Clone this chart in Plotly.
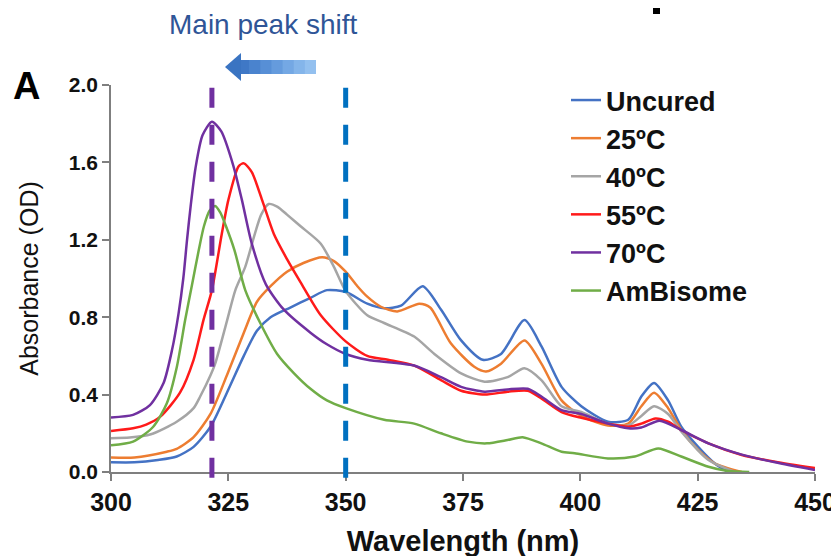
import plotly.graph_objects as go

# ---------------- data ----------------
series_names = ["Uncured", "25ºC", "40ºC", "55ºC", "70ºC", "AmBisome"]
series_colors = ["#4472C4", "#ED7D31", "#A5A5A5", "#FF1A1A", "#7030A0", "#70AD47"]

uncured_x = [300, 305, 310, 314, 317.6, 321.2, 324.7, 328.3, 331.1, 334, 338.2, 342.5, 346, 350,
             354.6, 358.2, 361.8, 366.4, 370.3, 374.6, 379.2, 383.1, 388.1, 391.7, 396, 400.2,
             405.9, 410.2, 413, 415.7, 418.7, 421.5, 425.1, 428.6, 431.5]
uncured_y = [0.05, 0.05, 0.062, 0.08, 0.13, 0.234, 0.41, 0.60, 0.73, 0.80, 0.85, 0.90, 0.94, 0.93,
             0.87, 0.846, 0.86, 0.96, 0.84, 0.68, 0.58, 0.61, 0.785, 0.65, 0.44, 0.34,
             0.26, 0.27, 0.39, 0.46, 0.37, 0.234, 0.13, 0.045, 0.0]

c25_x = [300, 305, 311.9, 314, 317.6, 321.2, 324.7, 328.3, 331.1, 334, 337.5, 341, 345, 347.5, 350,
         352.5, 354.6, 357.5, 361, 365.7, 368, 372.4, 377.4, 379.9, 383.1, 388.1, 391.7, 396, 400.2,
         405.9, 410.2, 413, 415.7, 418.7, 421.5, 425.1, 428.6, 434.4]
c25_y = [0.075, 0.075, 0.105, 0.12, 0.18, 0.30, 0.50, 0.72, 0.88, 0.96, 1.035, 1.08, 1.11, 1.09, 1.035,
         0.96, 0.906, 0.854, 0.83, 0.87, 0.85, 0.665, 0.544, 0.52, 0.56, 0.68, 0.56, 0.37, 0.29,
         0.24, 0.25, 0.34, 0.41, 0.33, 0.217, 0.114, 0.045, 0.0]

c40_x = [300, 304, 308.5, 314, 317.6, 319, 321.2, 322.2, 324.7, 326.5, 328.6, 330.4, 332, 333.6, 335.5,
         337.5, 340.4, 344.7, 347.5, 350, 354.6, 358.2, 364.6, 368.9, 374.6, 379.6, 384.5, 388.1,
         391.7, 396, 400.2, 405.9, 410.2, 413, 415.7, 418.7, 421.5, 427.3, 433]
c40_y = [0.175, 0.178, 0.195, 0.26, 0.33, 0.39, 0.50, 0.56, 0.78, 0.94, 1.06, 1.21, 1.33, 1.385, 1.37,
         1.33, 1.27, 1.18, 1.06, 0.935, 0.81, 0.77, 0.70, 0.61, 0.51, 0.467, 0.49, 0.536,
         0.475, 0.34, 0.31, 0.25, 0.24, 0.29, 0.34, 0.30, 0.21, 0.062, 0.0]

c55_x = [300, 304.7, 307.5, 310.5, 314.7, 317.6, 319.7, 321.5, 323.6, 325, 327.2, 328.3, 330, 332.2,
         334.7, 337.5, 340.4, 344.7, 350, 354.6, 359, 364.6, 370.3, 374.6, 379.6, 384.5, 388.8,
         391.7, 396, 400.2, 405.9, 410.2, 413, 416, 418.7, 421.5, 427.3, 434.4, 441.5, 450]
c55_y = [0.212, 0.226, 0.245, 0.286, 0.41, 0.58, 0.785, 0.94, 1.23, 1.405, 1.58, 1.595, 1.55, 1.405,
         1.23, 1.10, 0.98, 0.81, 0.675, 0.60, 0.58, 0.55, 0.475, 0.42, 0.40, 0.415, 0.42,
         0.38, 0.31, 0.28, 0.25, 0.234, 0.25, 0.277, 0.26, 0.217, 0.148, 0.088, 0.053, 0.02]

c70_x = [300, 304.7, 308.3, 311.2, 313, 314.4, 315.4, 316.2, 317, 318, 319.5, 321.5, 323.5, 326.1,
         327.9, 330, 333, 336.8, 342.5, 346, 350, 354.6, 364.6, 370.3, 374.6, 379.6, 384.5,
         388.8, 391.7, 396, 400.2, 405.9, 410.2, 413, 416.9, 421.5, 427.3, 434.4, 441.5, 450]
c70_y = [0.282, 0.295, 0.346, 0.46, 0.63, 0.82, 1.0, 1.20, 1.38, 1.57, 1.74, 1.81, 1.76, 1.58,
         1.405, 1.18, 0.97, 0.84, 0.72, 0.66, 0.61, 0.58, 0.55, 0.49, 0.44, 0.415, 0.427,
         0.43, 0.39, 0.32, 0.30, 0.25, 0.226, 0.23, 0.265, 0.217, 0.148, 0.09, 0.05, 0.01]

amb_x = [300, 304.7, 309, 311.9, 314, 315.8, 317.2, 318.7, 319.8, 321, 322.2, 323.3, 324.5, 326.3,
         328.6, 331.8, 335.4, 339, 342.5, 346, 350, 358.2, 364.6, 370.3, 376, 380.1, 384.5,
         387.7, 391.7, 396, 398.8, 405.9, 411.6, 416.6, 421.5, 427.3, 431.5, 436]
amb_y = [0.138, 0.157, 0.234, 0.355, 0.54, 0.785, 0.96, 1.147, 1.27, 1.35, 1.375, 1.34, 1.27, 1.147,
         0.94, 0.77, 0.61, 0.51, 0.43, 0.37, 0.33, 0.27, 0.25, 0.20, 0.157, 0.148, 0.165,
         0.18, 0.148, 0.105, 0.097, 0.07, 0.08, 0.122, 0.08, 0.027, 0.005, 0.0]

series_x = [uncured_x, c25_x, c40_x, c55_x, c70_x, amb_x]
series_y = [uncured_y, c25_y, c40_y, c55_y, c70_y, amb_y]

x_ticks = [300, 325, 350, 375, 400, 425, 450]
y_ticks = [0.0, 0.4, 0.8, 1.2, 1.6, 2.0]
y_tick_text = ["0.0", "0.4", "0.8", "1.2", "1.6", "2.0"]

peak_line_new = 321.5   # purple dashed marker (nm)
peak_line_old = 350     # blue dashed marker (nm)

FONT = "Liberation Sans, Arial, sans-serif"

fig = go.Figure()
for name, col, xs, ys in zip(series_names, series_colors, series_x, series_y):
    fig.add_trace(go.Scatter(x=xs, y=ys, name=name, mode="lines",
                             line=dict(color=col, width=2.5, shape="spline", smoothing=0.7)))

# dashed markers
for xv, col in [(peak_line_new, "#7030A0"), (peak_line_old, "#0070C0")]:
    fig.add_shape(type="line", xref="x", yref="paper", x0=xv, x1=xv, y0=-0.015, y1=1.01,
                  line=dict(color=col, width=5, dash="20px,17px"), layer="above")

def px2x(p):
    return (p - 111) / 704.0

def py2y(p):
    return (472 - p) / 387.0

# gradient-ish arrow (body in stripes, dark -> light)
body_cols = ["#3F78C6", "#4A83CE", "#578FD6", "#659BDD", "#74A8E4", "#84B5EA", "#93C0EF"]
x_start, x_end = 238, 316
n = len(body_cols)
for i, c in enumerate(body_cols):
    a = x_start + (x_end - x_start) * i / n
    b = x_start + (x_end - x_start) * (i + 1) / n + 0.8
    fig.add_shape(type="rect", xref="paper", yref="paper",
                  x0=px2x(a), x1=px2x(min(b, x_end)), y0=py2y(74), y1=py2y(60),
                  line=dict(width=0), fillcolor=c, layer="above")
fig.add_shape(type="path", xref="paper", yref="paper",
              path=f"M {px2x(225)},{py2y(67)} L {px2x(241)},{py2y(53)} L {px2x(241)},{py2y(81)} Z",
              line=dict(width=0), fillcolor="#3A74C2", layer="above")

# black bar at the top (edge of neighbouring panel)
fig.add_shape(type="rect", xref="paper", yref="paper",
              x0=px2x(653), x1=px2x(660), y0=py2y(14), y1=py2y(4),
              line=dict(width=0), fillcolor="#000000", layer="above")

fig.add_annotation(text="Main peak shift", xref="paper", yref="paper",
                   x=px2x(263), y=py2y(25), showarrow=False, xanchor="center", yanchor="middle",
                   font=dict(family=FONT, size=28, color="#2F5597"))
fig.add_annotation(text="<b>A</b>", xref="paper", yref="paper",
                   x=px2x(26), y=py2y(86), showarrow=False, xanchor="center", yanchor="middle",
                   font=dict(family=FONT, size=38, color="#000000"))

fig.update_layout(
    width=839, height=556,
    margin=dict(l=103, r=32, t=77, b=92),
    paper_bgcolor="white", plot_bgcolor="white",
    font=dict(family=FONT, color="#000000"),
    showlegend=True,
    legend=dict(x=px2x(566), y=py2y(76), xanchor="left", yanchor="top",
                bgcolor="rgba(0,0,0,0)", borderwidth=0,
                font=dict(family=FONT, size=27, color="#111111", weight="bold"),
                tracegroupgap=0),
    xaxis=dict(range=[300, 450], tickvals=x_ticks, ticktext=[str(v) for v in x_ticks],
               showgrid=False, zeroline=False, showline=True, linecolor="#7F7F7F", linewidth=1.5,
               ticks="outside", ticklen=7, tickwidth=1.5, tickcolor="#7F7F7F",
               tickfont=dict(family=FONT, size=25, color="#111111", weight="bold"),
               title=dict(text="Wavelength (nm)", standoff=16,
                          font=dict(family=FONT, size=29, color="#111111", weight="bold"))),
    yaxis=dict(range=[0, 2.0], tickvals=y_ticks, ticktext=y_tick_text,
               showgrid=False, zeroline=False, showline=True, linecolor="#7F7F7F", linewidth=1.5,
               ticks="outside", ticklen=7, tickwidth=1.5, tickcolor="#7F7F7F",
               tickfont=dict(family=FONT, size=21, color="#111111", weight="bold"),
               title=dict(text="Absorbance (OD)", standoff=23,
                          font=dict(family=FONT, size=25, color="#111111"))),
)

fig.write_html("out.html")
